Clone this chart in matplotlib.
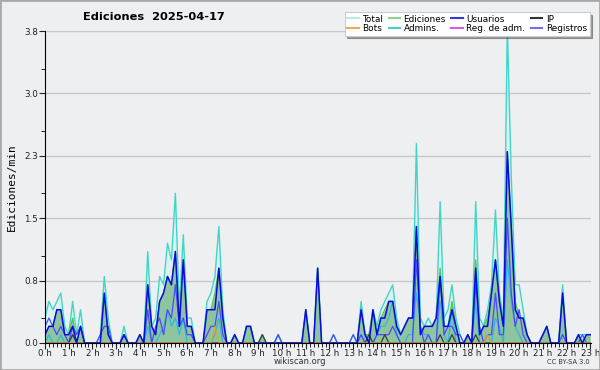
import matplotlib.pyplot as plt
import numpy as np
from matplotlib.lines import Line2D
from matplotlib.patches import Rectangle

# one value every 10 minutes, 0 h .. 23 h (edits per minute)
hours = np.arange(139) / 6

total = [0.3, 0.5, 0.4, 0.5, 0.6, 0.2, 0.1, 0.5, 0.1, 0.4, 0, 0,          # 0-1 h
         0, 0, 0.1, 0.8, 0.3, 0, 0, 0, 0.2, 0, 0, 0,                      # 2-3 h
         0.1, 0, 1.1, 0.2, 0.3, 0.8, 0.7, 1.2, 1.0, 1.8, 0.4, 1.3,        # 4-5 h
         0.3, 0.3, 0, 0, 0, 0.5, 0.6, 0.8, 1.4, 0.4, 0, 0,                # 6-7 h
         0.1, 0, 0, 0.2, 0.2, 0, 0, 0.1, 0, 0, 0, 0.1,                    # 8-9 h
         0, 0, 0, 0, 0, 0, 0.4, 0, 0, 0.9, 0, 0,                          # 10-11 h
         0, 0.1, 0, 0, 0, 0, 0.1, 0, 0.5, 0.1, 0.1, 0.4,                  # 12-13 h
         0.2, 0.4, 0.5, 0.6, 0.7, 0.3, 0.1, 0.2, 0.3, 0.3, 2.4, 0.3,      # 14-15 h
         0.2, 0.3, 0.2, 0.3, 1.7, 0.3, 0.4, 0.7, 0.3, 0.1, 0, 0.1,        # 16-17 h
         0, 1.7, 0.3, 0.2, 0.4, 0.7, 1.6, 0.6, 0.3, 3.8, 2.0, 0.7,        # 18-19 h
         0.7, 0.4, 0.1, 0, 0, 0, 0.1, 0.2, 0, 0, 0, 0.7,                  # 20-21 h
         0, 0, 0, 0.1, 0.1, 0.1, 0.1]                                     # 22-23 h

edits = [0.1, 0.2, 0.2, 0.4, 0.4, 0.1, 0.1, 0.3, 0, 0.2, 0, 0,
         0, 0, 0, 0.6, 0.1, 0, 0, 0, 0.1, 0, 0, 0,
         0.1, 0, 0.7, 0.2, 0.1, 0.5, 0.6, 0.8, 0.7, 1.1, 0.2, 1.0,
         0.2, 0.2, 0, 0, 0, 0.4, 0.4, 0.6, 0.9, 0.3, 0, 0,
         0.1, 0, 0, 0.2, 0.2, 0, 0, 0.1, 0, 0, 0, 0,
         0, 0, 0, 0, 0, 0, 0.4, 0, 0, 0.9, 0, 0,
         0, 0, 0, 0, 0, 0, 0, 0, 0.4, 0.1, 0.1, 0.4,
         0.1, 0.3, 0.4, 0.5, 0.5, 0.2, 0.1, 0.2, 0.3, 0.3, 1.4, 0.1,
         0.2, 0.2, 0.2, 0.3, 0.9, 0.2, 0.2, 0.5, 0.2, 0, 0, 0.1,
         0, 1.0, 0.1, 0.2, 0.3, 0.6, 1.0, 0.5, 0.2, 2.3, 1.4, 0.5,
         0.3, 0.3, 0.1, 0, 0, 0, 0.1, 0.2, 0, 0, 0, 0.6,
         0, 0, 0, 0.1, 0, 0.1, 0.1]

users = [0.1, 0.2, 0.2, 0.4, 0.4, 0.1, 0.1, 0.2, 0, 0.2, 0, 0,
         0, 0, 0, 0.6, 0.1, 0, 0, 0, 0.1, 0, 0, 0,
         0.1, 0, 0.7, 0.2, 0.1, 0.5, 0.6, 0.8, 0.7, 1.1, 0.2, 1.0,
         0.2, 0.2, 0, 0, 0, 0.4, 0.4, 0.4, 0.9, 0.3, 0, 0,
         0.1, 0, 0, 0.2, 0.2, 0, 0, 0, 0, 0, 0, 0,
         0, 0, 0, 0, 0, 0, 0.4, 0, 0, 0.9, 0, 0,
         0, 0, 0, 0, 0, 0, 0, 0, 0.4, 0.1, 0, 0.4,
         0.1, 0.3, 0.3, 0.5, 0.5, 0.2, 0.1, 0.2, 0.3, 0.3, 1.4, 0.1,
         0.2, 0.2, 0.2, 0.3, 0.8, 0.2, 0.2, 0.4, 0.2, 0, 0, 0.1,
         0, 0.9, 0.1, 0.2, 0.2, 0.6, 1.0, 0.5, 0.2, 2.3, 1.4, 0.4,
         0.3, 0.3, 0.1, 0, 0, 0, 0.1, 0.2, 0, 0, 0, 0.6,
         0, 0, 0, 0.1, 0, 0.1, 0.1]

logs = [0.2, 0.3, 0.2, 0.1, 0.2, 0.1, 0, 0.2, 0.1, 0.2, 0, 0,
        0, 0, 0.1, 0.2, 0.2, 0, 0, 0, 0.1, 0, 0, 0,
        0, 0, 0.4, 0, 0.2, 0.3, 0.1, 0.4, 0.3, 0.7, 0.2, 0.3,
        0.1, 0.1, 0, 0, 0, 0.1, 0.2, 0.2, 0.5, 0.1, 0, 0,
        0, 0, 0, 0, 0, 0, 0, 0, 0, 0, 0, 0.1,
        0, 0, 0, 0, 0, 0, 0, 0, 0, 0, 0, 0,
        0, 0.1, 0, 0, 0, 0, 0.1, 0, 0.1, 0, 0, 0,
        0.1, 0.1, 0.1, 0.1, 0.2, 0.1, 0, 0, 0, 0, 1.0, 0.2,
        0, 0.1, 0, 0, 0.8, 0.1, 0.2, 0.2, 0.1, 0.1, 0, 0,
        0, 0.7, 0.2, 0, 0.1, 0.1, 0.6, 0.1, 0.1, 1.5, 0.6, 0.2,
        0.4, 0.1, 0, 0, 0, 0, 0, 0, 0, 0, 0, 0.1,
        0, 0, 0, 0, 0.1, 0, 0]

admins = [0, 0.1, 0, 0, 0.1, 0, 0, 0.1, 0, 0, 0, 0,
          0, 0, 0, 0, 0, 0, 0, 0, 0, 0, 0, 0,
          0, 0, 0.2, 0, 0, 0.1, 0.2, 0.4, 0.2, 0.3, 0.1, 0.3,
          0, 0, 0, 0, 0, 0, 0, 0.1, 0.3, 0, 0, 0,
          0, 0, 0, 0, 0, 0, 0, 0, 0, 0, 0, 0.1,
          0, 0, 0, 0, 0, 0, 0, 0, 0, 0, 0, 0,
          0, 0, 0, 0, 0, 0, 0, 0, 0.1, 0, 0, 0,
          0.1, 0.2, 0.2, 0.3, 0.5, 0.1, 0, 0, 0.1, 0.1, 0.6, 0.2,
          0.1, 0.1, 0, 0, 0.5, 0.1, 0, 0.4, 0, 0, 0, 0,
          0, 0.5, 0, 0, 0.1, 0, 0.3, 0.2, 0, 1.0, 0.5, 0.2,
          0.1, 0, 0, 0, 0, 0, 0, 0, 0, 0, 0, 0.1,
          0, 0, 0, 0, 0, 0, 0]

ip = [0] * 139
for i in (7, 55, 82, 86, 100, 103, 109):
    ip[i] = 0.1

bots = [0] * 139
bots[43] = 0.2
bots[112] = 0.1

admin_logs = [0] * 139

bg = '#eeeff1'
fig = plt.figure(figsize=(6, 3.7), dpi=100, facecolor=bg)
ax = fig.add_axes([0.075, 0.073, 0.91, 0.843])
ax.set_facecolor(bg)

ax.fill_between(hours, total, color='#dcf1f1', lw=0, zorder=1)
ax.fill_between(hours, edits, color='#8fc59e', lw=0, zorder=1.2)
ax.plot(hours, admin_logs, color='#d050e0', lw=0.9)
ax.plot(hours, total, color='#40d6c6', lw=1.0)
ax.plot(hours, edits, color='#5cbf4a', lw=0.9)
ax.plot(hours, admins, color='#2fb8dc', lw=0.9)
ax.plot(hours, logs, color='#4a4aff', lw=0.9)
ax.plot(hours, ip, color='#3a3a3a', lw=0.9)
ax.plot(hours, bots, color='#f09a30', lw=0.9)
ax.plot(hours, users, color='#0a0ae0', lw=1.1)

ax.set_xlim(0, 23.03)
ax.set_ylim(0, 3.75)
ax.set_xticks(range(24))
ax.set_xticklabels([f'{h} h' for h in range(24)])
ax.set_xticks(np.arange(0, 23.01, 1 / 6), minor=True)
ax.set_yticks([0, 0.75, 1.5, 2.25, 3.0, 3.75])
ax.set_yticklabels(['0.0', '0.8', '1.5', '2.3', '3.0', '3.8'])
ax.set_yticks([0.3, 1.05, 1.8, 2.55, 3.3], minor=True)
ax.tick_params(axis='both', which='major', direction='out', length=4,
               labelsize=6.3, pad=1, colors='#222222')
ax.tick_params(axis='x', which='major', pad=0.5)
ax.tick_params(axis='both', which='minor', direction='out', length=3)
ax.yaxis.grid(True, color='#c8c8c8', lw=1)
ax.set_axisbelow(True)
for s in ('top', 'right'):
    ax.spines[s].set_visible(False)
ax.set_ylabel('Ediciones/min', family='DejaVu Sans Mono', fontsize=8, labelpad=5)

fig.text(0.257, 0.955, 'Ediciones  2025-04-17', fontsize=8.2,
         fontweight='bold', ha='center', va='center')

handles = [Line2D([], [], color='#b8e8e8'), Line2D([], [], color='#f0a848'),
           Line2D([], [], color='#90d090'), Line2D([], [], color='#48c8d8'),
           Line2D([], [], color='#3838e0'), Line2D([], [], color='#d060e0'),
           Line2D([], [], color='#333333'), Line2D([], [], color='#7070f0')]
labels = ['Total', 'Bots', 'Ediciones', 'Admins.', 'Usuarios', 'Reg. de adm.',
          'IP', 'Registros']
leg = fig.legend(handles, labels, ncol=4, loc='upper right',
                 bbox_to_anchor=(0.99, 0.98), fontsize=6.4, frameon=True,
                 fancybox=False, shadow=True, handlelength=1.3,
                 handletextpad=0.4, columnspacing=0.6, labelspacing=0.05,
                 borderpad=0.3)
leg.get_frame().set_edgecolor('#cccccc')
leg.get_frame().set_linewidth(0.8)

fig.text(0.5, 0.022, 'wikiscan.org', fontsize=6, ha='center', va='center',
         color='#333333')
fig.text(0.983, 0.022, 'CC BY-SA 3.0', fontsize=4.8, ha='right', va='center',
         color='#333333')
fig.patches.append(Rectangle((0, 0), 1, 1, transform=fig.transFigure,
                             fill=False, edgecolor='#a9a9a9', lw=2))

fig.savefig('out.png', dpi=100, facecolor=bg)
